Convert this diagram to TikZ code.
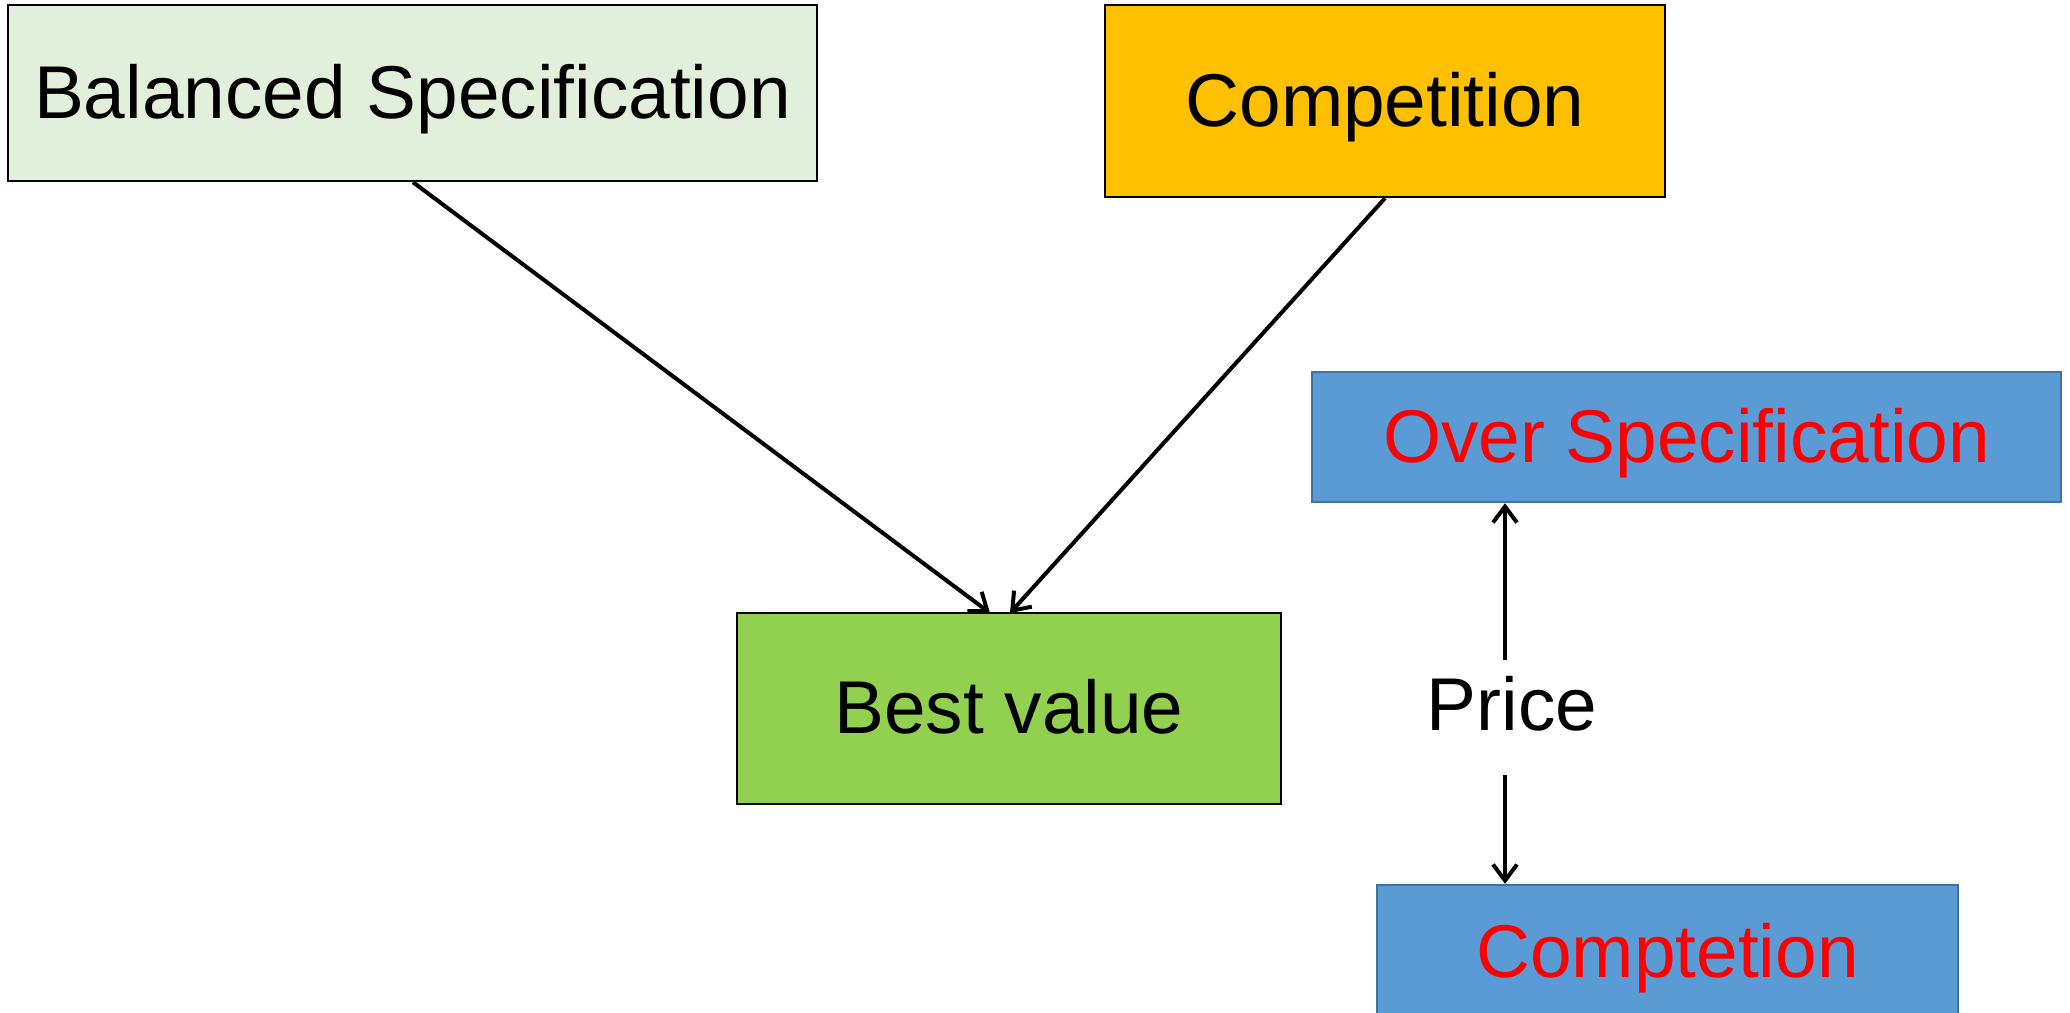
\documentclass[tikz,border=0pt]{standalone}
\usepackage{fontspec}
\setmainfont{Liberation Sans}
\usetikzlibrary{arrows.meta}
\definecolor{lightgreen}{HTML}{E2EFDA}
\definecolor{amber}{HTML}{FFC000}
\definecolor{bluefill}{HTML}{5B9BD5}
\definecolor{blueedge}{HTML}{41719C}
\definecolor{leafgreen}{HTML}{92D050}
\definecolor{redtext}{HTML}{FF0000}
\tikzset{
  box/.style={draw=black, line width=1.2pt, rectangle, inner sep=0pt, anchor=center, text height=33pt, text depth=7.6pt, font=\fontsize{37.4}{44}\selectfont},
  bluebox/.style={box, draw=blueedge, fill=bluefill, text=redtext},
  conn/.style={line width=2pt, -{Straight Barb[length=8pt,width=12pt,line width=2pt]}},
}
\begin{document}
\begin{tikzpicture}[x=0.5pt,y=-0.5pt]
\clip (0,0) rectangle (2070,1012);
\fill[white] (0,0) rectangle (2070,1012);
\node[box, fill=lightgreen, minimum width=404.5pt, minimum height=88pt] (bal) at (412.5,93) {Balanced Specification};
\node[box, fill=amber, minimum width=280pt, minimum height=96pt] (comp) at (1385,101) {Competition};
\node[bluebox, minimum width=374.5pt, minimum height=65pt] (over) at (1686.5,437) {Over Specification};
\node[box, fill=leafgreen, minimum width=272pt, minimum height=95.5pt] (best) at (1009,708.5) {Best value};
\node[bluebox, minimum width=290.5pt, minimum height=67pt] (compt) at (1667.5,952) {Comptetion};
\node[font=\fontsize{37.4}{44}\selectfont, inner sep=0pt] (price) at (1512,704) {Price};
\coordinate (pu) at (1505,660);
\coordinate (pd) at (1505,775);
\draw[conn] (bal.south -| 413,0) -- (990,613);
\draw[conn] (comp.south) -- (1010,613);
\draw[conn] (pu) -- (pu |- over.south);
\draw[conn] (pd) -- (pd |- compt.north);
\end{tikzpicture}
\end{document}
